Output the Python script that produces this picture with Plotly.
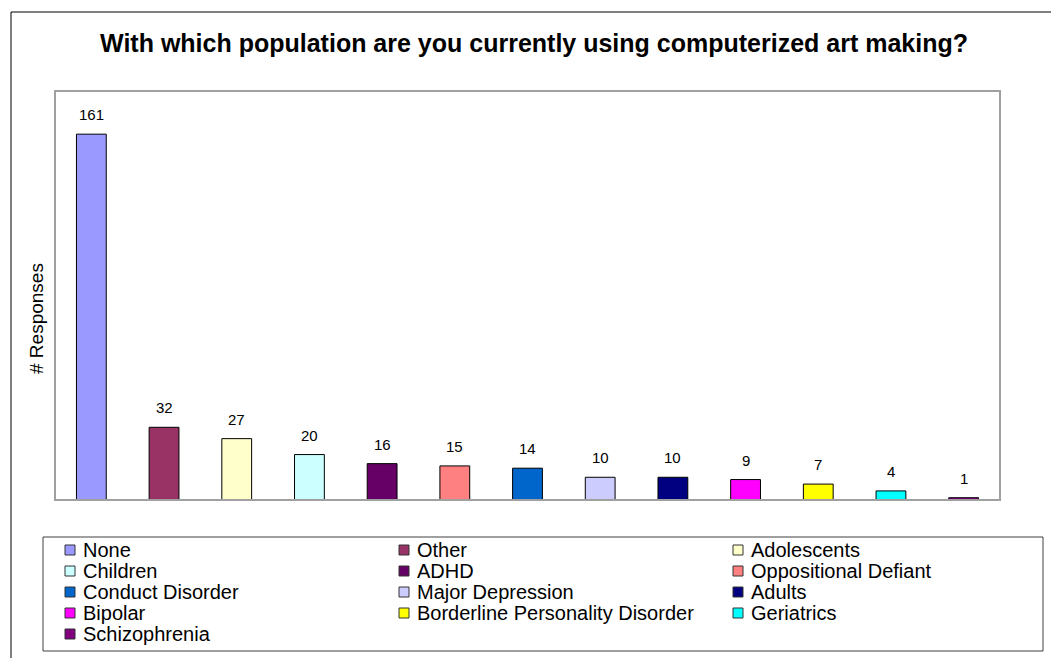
import plotly.graph_objects as go

# ---- data ----
categories = ["None", "Other", "Adolescents", "Children", "ADHD", "Oppositional Defiant",
              "Conduct Disorder", "Major Depression", "Adults", "Bipolar",
              "Borderline Personality Disorder", "Geriatrics", "Schizophrenia"]
responses = [161, 32, 27, 20, 16, 15, 14, 10, 10, 9, 7, 4, 1]
colors = ["#9999FF", "#993366", "#FFFFCC", "#CCFFFF", "#660066", "#FF8080",
          "#0066CC", "#CCCCFF", "#000080", "#FF00FF", "#FFFF00", "#00FFFF", "#800080"]
title_text = "With which population are you currently using computerized art making?"
y_title = "# Responses"

OFF = 8  # page body margin offset
W, H = 1059 - 2 * OFF, 666 - 2 * OFF
FONT = "Liberation Sans, Arial, Helvetica, sans-serif"


def px(x):
    return (x - OFF) / W


def py(y):
    return 1 - (y - OFF) / H


fig = go.Figure()

fig.add_trace(go.Bar(
    x=categories, y=responses,
    marker=dict(color=colors, line=dict(color="black", width=1)),
    showlegend=False, xaxis="x", yaxis="y",
    hovertemplate="%{x}: %{y}<extra></extra>",
))

# manual legend (3 columns, row-major) on a hidden helper axis pair
ncol = 3
leg_x = [27 + 334 * (i % ncol) for i in range(len(categories))]
leg_y = [13 + 21 * (i // ncol) for i in range(len(categories))]
fig.add_trace(go.Scatter(
    x=leg_x, y=leg_y, mode="markers",
    marker=dict(symbol="square", size=10, color=colors, line=dict(color="#333333", width=1)),
    showlegend=False, hoverinfo="skip", xaxis="x2", yaxis="y2",
))

annotations = []
for cat, val in zip(categories, responses):
    annotations.append(dict(
        x=cat, y=val, xref="x", yref="y", text=str(val), showarrow=False,
        yanchor="bottom", yshift=9, font=dict(family=FONT, size=15, color="black"),
    ))
for cat, lx, ly in zip(categories, leg_x, leg_y):
    annotations.append(dict(
        x=lx + 11, y=ly, xref="x2", yref="y2", text=cat, showarrow=False,
        xanchor="left", yanchor="middle", font=dict(family=FONT, size=20, color="black"),
    ))
annotations.append(dict(
    x=px(36), y=py(319), xref="paper", yref="paper", text=y_title, showarrow=False,
    textangle=-90, xanchor="center", yanchor="middle",
    font=dict(family=FONT, size=19, color="black"),
))

shapes = [
    # outer frame (right/bottom edges fall outside the visible page)
    dict(type="rect", xref="paper", yref="paper", x0=px(11), y0=py(12), x1=1.1, y1=-0.1,
         line=dict(color="black", width=1)),
    # plot area frame
    dict(type="rect", xref="paper", yref="paper", x0=px(55), y0=py(91), x1=px(1000), y1=py(500),
         line=dict(color="#a0a0a0", width=2)),
    # legend frame
    dict(type="rect", xref="paper", yref="paper", x0=px(43), y0=py(537), x1=px(1043), y1=py(651),
         line=dict(color="#404040", width=1)),
]

fig.update_layout(
    width=W, height=H,
    margin=dict(l=0, r=0, t=0, b=0),
    paper_bgcolor="white", plot_bgcolor="white",
    title=dict(text="<b>" + title_text + "</b>", x=px(534), xanchor="center",
               y=py(43), yanchor="middle", xref="paper", yref="paper",
               font=dict(family=FONT, size=25, color="black")),
    barmode="overlay", bargap=0.59,
    xaxis=dict(domain=[px(55), px(1000)], showticklabels=False, showgrid=False,
               zeroline=False, showline=False, ticks=""),
    yaxis=dict(domain=[py(500), py(91)], range=[0, 180], showticklabels=False,
               showgrid=False, zeroline=False, showline=False, ticks=""),
    xaxis2=dict(domain=[px(43), px(1043)], range=[0, 1000], visible=False, fixedrange=True),
    yaxis2=dict(domain=[py(651), py(537)], range=[114, 0], visible=False, fixedrange=True),
    annotations=annotations,
    shapes=shapes,
    showlegend=False,
)

fig.write_html("out.html")
